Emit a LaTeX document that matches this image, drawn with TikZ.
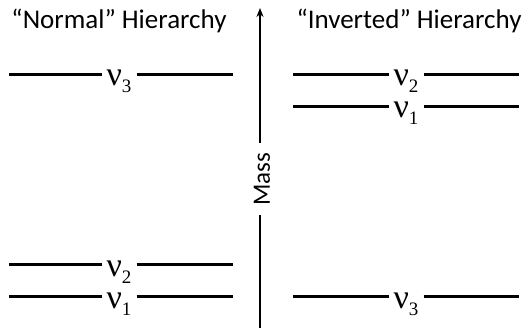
\documentclass[tikz,border=0pt]{standalone}
\usepackage{fontspec}
\setmainfont{Carlito}
\newfontfamily\nufont{Liberation Serif}
\usetikzlibrary{arrows.meta}
\tikzset{
  title/.style={font=\fontsize{27}{30}\selectfont, inner sep=0pt, anchor=base},
  lvl/.style={line width=3pt},
  nulab/.style={inner sep=0pt, anchor=base, font=\nufont\fontsize{34}{34}\selectfont},
  axis/.style={line width=1.6pt},
}
\newcommand\nulabel[1]{ν\raisebox{-6.5pt}{\fontsize{19}{19}\selectfont #1}}
\begin{document}
\begin{tikzpicture}[x=1pt,y=-1pt]
\useasboundingbox (0,0) rectangle (525,328);
% titles
\node[title] (tl) at (119,29) {“Normal” Hierarchy};
\node[title] (tr) at (409,29) {“Inverted” Hierarchy};
% axis
\coordinate (axb) at (260,330);
\coordinate (axt) at (260,8);
\node[rotate=90, font=\fontsize{25}{28}\selectfont, inner xsep=0pt, minimum width=72pt, inner ysep=0pt] (mass) at (262,179) {Mass};
\draw[axis] (axb) -- (axb |- mass.west);
\draw[axis,-{Stealth[length=9pt,width=7pt]}] (axb |- mass.east) -- (axt);
% left levels
\node[nulab] (ln3) at (119,86) {\nulabel{3}};
\node[nulab] (ln2) at (119,277) {\nulabel{2}};
\node[nulab] (ln1) at (119,309) {\nulabel{1}};
% right levels
\node[nulab] (rn2) at (406,86) {\nulabel{2}};
\node[nulab] (rn1) at (406,118) {\nulabel{1}};
\node[nulab] (rn3) at (406,309) {\nulabel{3}};
% level line ends
\foreach \n/\y in {ln3/75, ln2/265, ln1/297}{
  \coordinate (\n a) at (9,\y);
  \coordinate (\n b) at (233,\y);
}
\foreach \n/\y in {rn2/75, rn1/107, rn3/297}{
  \coordinate (\n a) at (293,\y);
  \coordinate (\n b) at (519,\y);
}
\foreach \n in {ln3,ln2,ln1,rn2,rn1,rn3}{
  \draw[lvl] (\n a) -- ([xshift=-4pt]\n.west |- \n a);
  \draw[lvl] ([xshift=5pt]\n.east |- \n b) -- (\n b);
}
\end{tikzpicture}
\end{document}
